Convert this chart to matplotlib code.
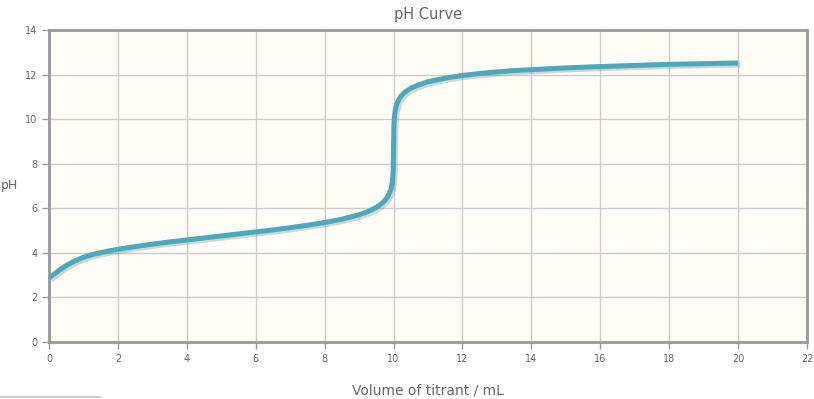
import matplotlib
matplotlib.use('Agg')
import matplotlib.pyplot as plt
import matplotlib.patheffects as pe

# volume of titrant (mL) and pH
volume = [0, 0.05, 0.1, 0.2, 0.3, 0.4, 0.5, 0.75, 1, 1.25, 1.5, 1.75, 2, 2.5, 3, 3.5,
          4, 4.5, 5, 5.5, 6, 6.5, 7, 7.5, 8, 8.5, 9, 9.25, 9.5, 9.65, 9.75, 9.85,
          9.9, 9.93, 9.96, 9.98, 9.99, 10, 10.01, 10.02, 10.03, 10.05, 10.08, 10.1,
          10.15, 10.2, 10.3, 10.4, 10.5, 10.75, 11, 11.5, 12, 12.5, 13, 13.5, 14,
          15, 16, 17, 18, 19, 20]
ph = [2.87, 2.93, 2.99, 3.10, 3.22, 3.33, 3.43, 3.64, 3.80, 3.92, 4.01, 4.09, 4.16,
      4.28, 4.39, 4.49, 4.58, 4.67, 4.76, 4.85, 4.94, 5.03, 5.13, 5.24, 5.36, 5.51,
      5.71, 5.85, 6.04, 6.20, 6.35, 6.58, 6.76, 6.88, 7.14, 7.45, 7.76, 8.73, 9.70,
      10.0, 10.17, 10.4, 10.6, 10.7, 10.87, 11.0, 11.17, 11.29, 11.39, 11.55, 11.68,
      11.84, 11.96, 12.05, 12.12, 12.18, 12.22, 12.30, 12.36, 12.41, 12.46, 12.49,
      12.52]

x_ticks = list(range(0, 23, 2))
y_ticks = list(range(0, 15, 2))

TXT = '#666666'

fig = plt.figure(figsize=(8.14, 3.99), dpi=100)
ax = fig.add_axes([49 / 814, 1 - 342 / 399, (807 - 49) / 814, (342 - 30) / 399])
ax.set_facecolor('#fffdf6')

ax.plot(volume, ph, color='#4aa9bd', lw=3.6, solid_capstyle='butt',
        solid_joinstyle='round', zorder=3,
        path_effects=[pe.SimpleLineShadow(offset=(1.5, -1.5), shadow_color='#888888', alpha=0.35),
                      pe.Normal()])

ax.set_xlim(0, 22)
ax.set_ylim(0, 14)
ax.set_xticks(x_ticks)
ax.set_yticks(y_ticks)
ax.grid(True, color='#cccccc', lw=1)
ax.set_axisbelow(True)
ax.tick_params(colors='#999999', labelcolor=TXT, labelsize=7, length=5, width=1)
for s in ax.spines.values():
    s.set_color('#999999')
    s.set_linewidth(2)

ax.set_title('pH Curve', color=TXT, fontsize=10.5, pad=8)
ax.set_xlabel('Volume of titrant / mL', color=TXT, fontsize=10, labelpad=14)
ax.set_ylabel('pH', color=TXT, fontsize=9, rotation=0, labelpad=20, va='center')
ax.yaxis.set_label_coords(-0.052, 0.5)

# faint rule at the very bottom-left of the page
fig.add_artist(plt.Line2D([0, 100 / 814], [0.004, 0.004], color='#cccccc', lw=1.5))

fig.savefig('out.png', dpi=100)
